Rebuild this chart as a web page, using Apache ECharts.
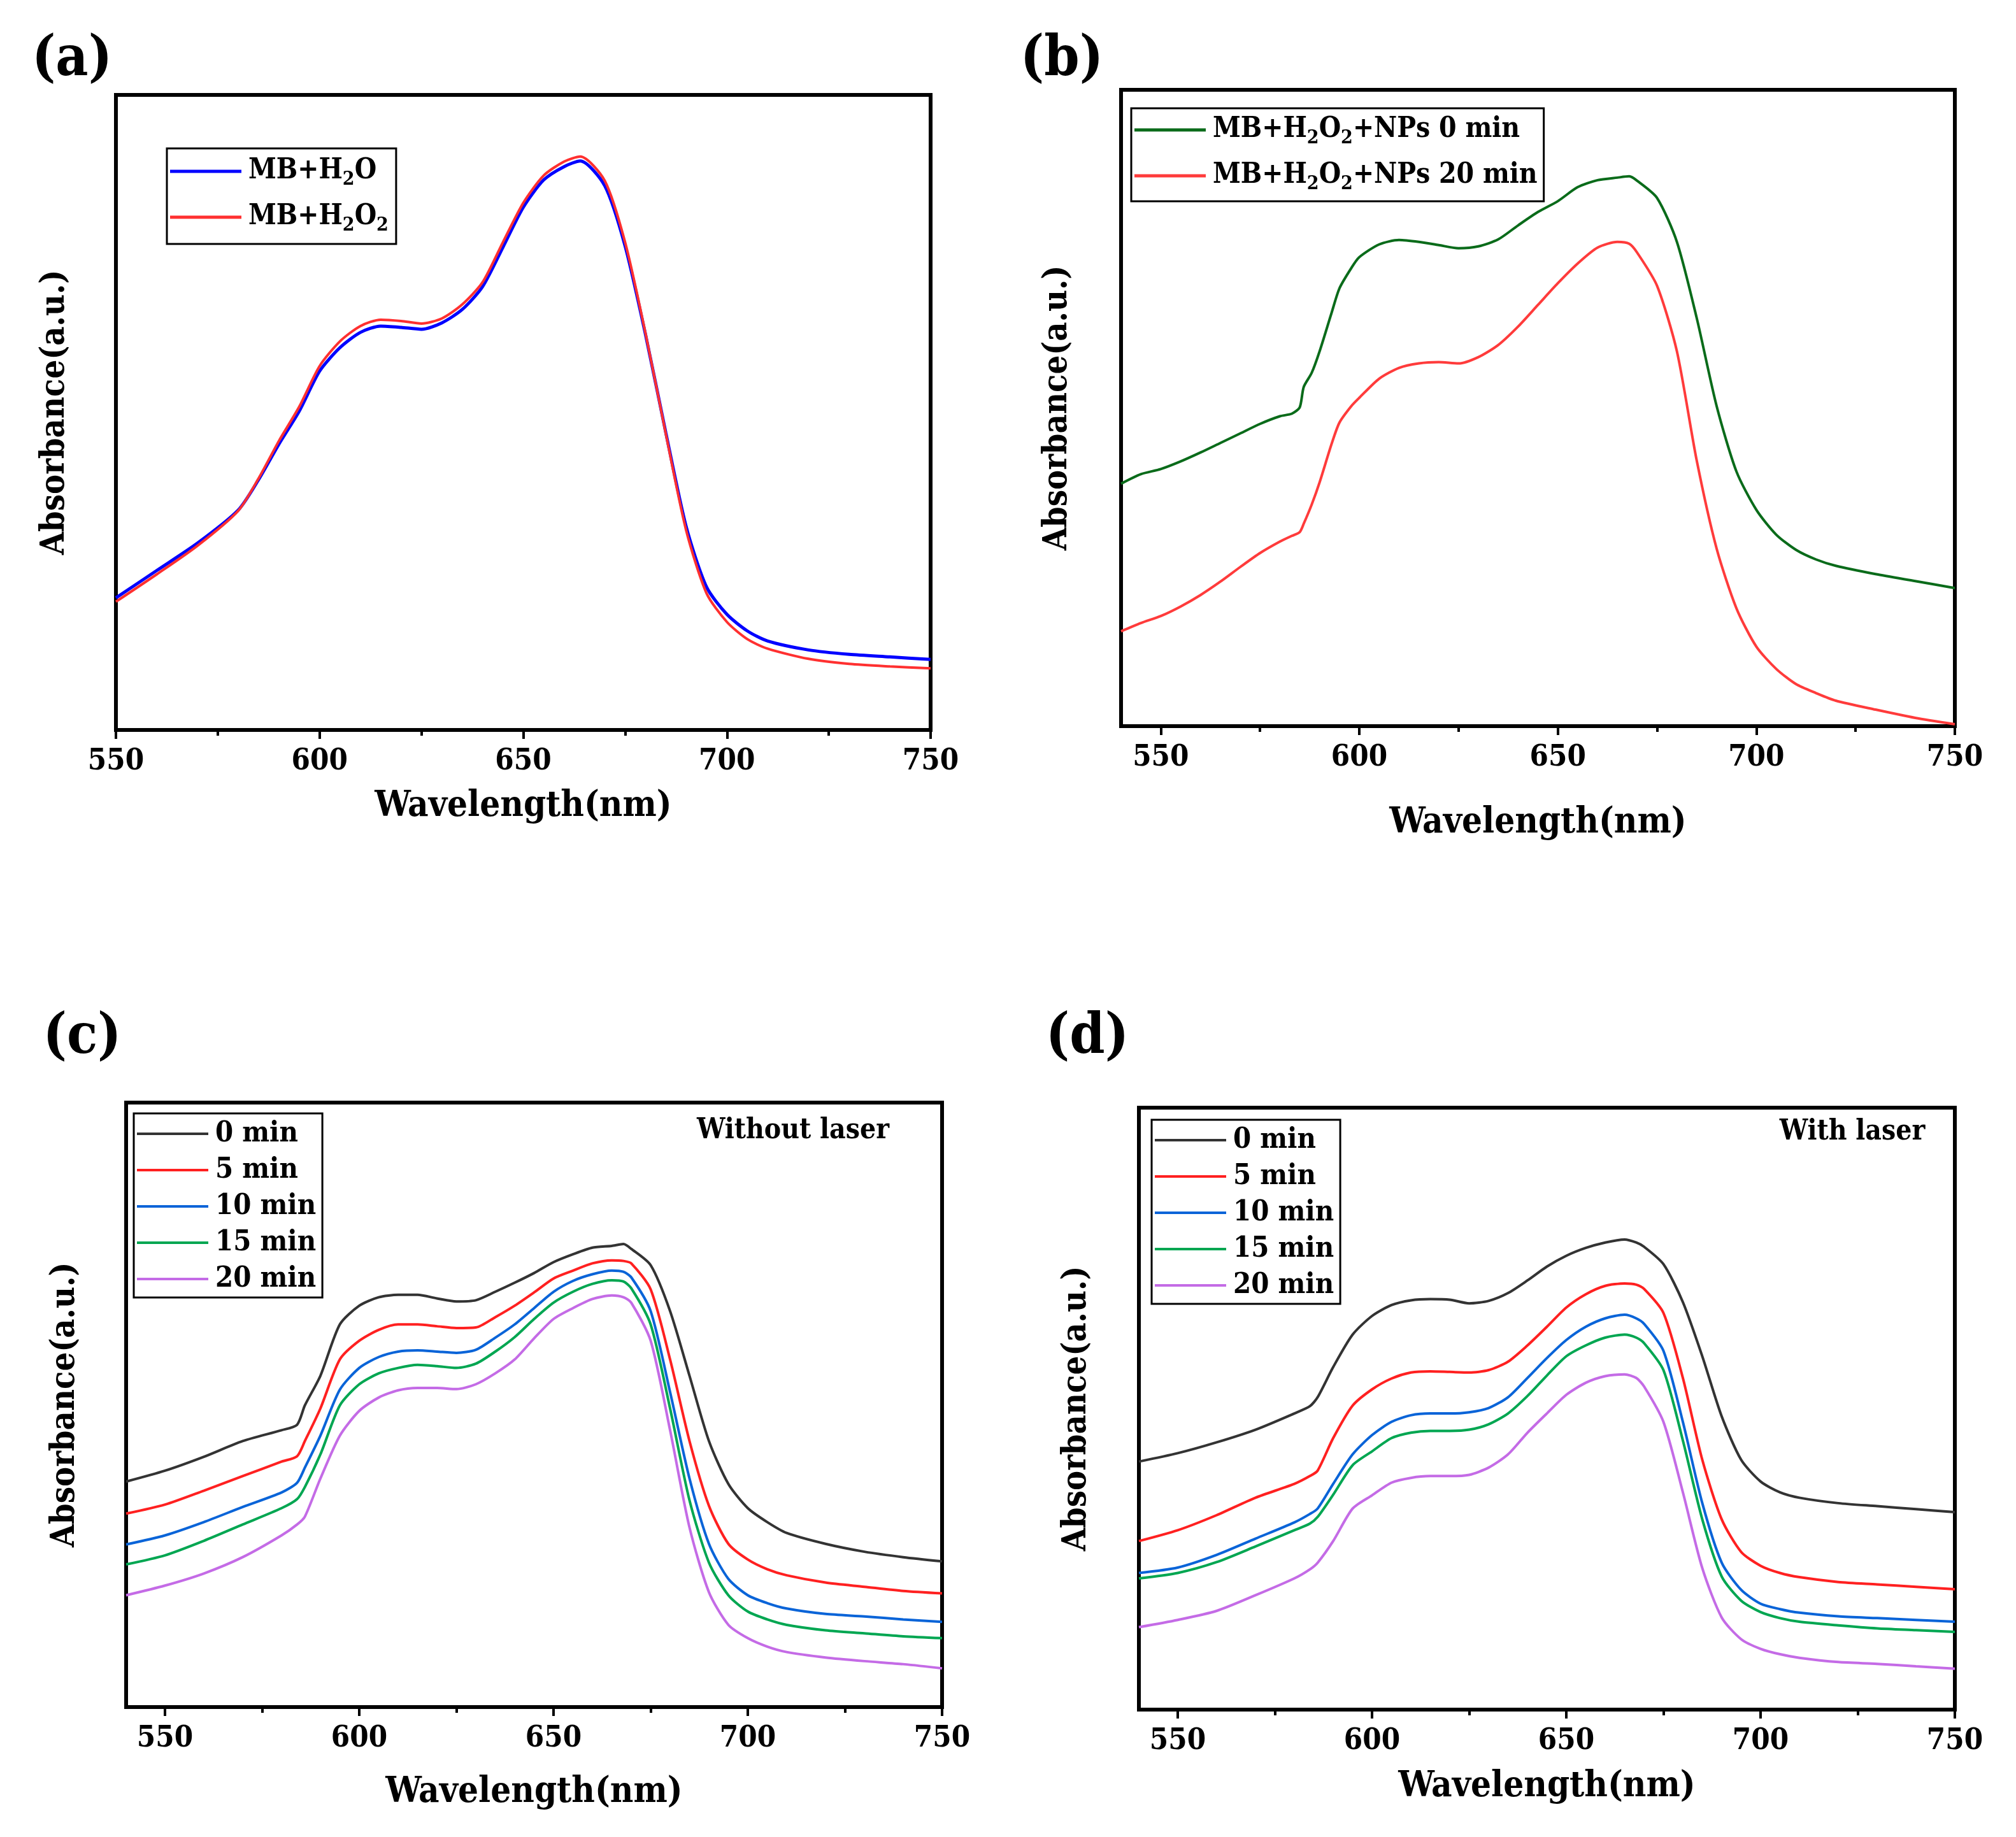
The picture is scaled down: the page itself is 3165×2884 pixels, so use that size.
<!DOCTYPE html>
<html><head><meta charset="utf-8">
<script src="https://cdn.jsdelivr.net/npm/echarts@6/dist/echarts.min.js"></script>
<style>html,body{margin:0;padding:0;background:#fff}#c{width:3165px;height:2884px}</style>
</head><body><div id="c"></div><script>
// ---------- data (absorbance in arbitrary units, fraction of plot height) ----------
const WL_A = [550,560,570,580,585,590,595,600,605,610,615,620,625,630,635,640,645,650,655,660,664,670,675,680,685,690,695,700,705,710,720,730,740,750];
const A_MB_H2O = [.208,.251,.294,.346,.394,.450,.502,.565,.602,.626,.636,.634,.631,.641,.662,.698,.760,.823,.866,.887,.896,.857,.762,.623,.468,.320,.225,.182,.156,.140,.126,.119,.115,.111];
const A_MB_H2O2 = [.202,.245,.290,.345,.396,.455,.509,.573,.612,.636,.646,.644,.640,.648,.670,.705,.768,.830,.873,.895,.903,.865,.768,.625,.466,.314,.215,.170,.143,.128,.112,.104,.100,.097];

const WL_B = [540,545,550,555,560,565,570,575,580,583,585,586,588,590,593,595,598,600,605,610,615,620,625,630,635,640,645,650,655,660,665,668,670,675,680,685,690,695,700,705,710,715,720,730,740,750];
const B_NP0 = [.381,.396,.404,.416,.430,.445,.460,.475,.487,.491,.501,.533,.555,.589,.649,.688,.720,.737,.757,.764,.761,.756,.751,.754,.765,.787,.808,.825,.847,.858,.862,.864,.857,.830,.761,.641,.503,.400,.340,.301,.277,.262,.252,.239,.228,.217];
const B_NP20 = [.149,.162,.173,.188,.206,.227,.250,.272,.290,.299,.305,.318,.348,.383,.443,.477,.503,.516,.546,.563,.570,.572,.570,.580,.599,.628,.662,.696,.727,.752,.761,.758,.744,.692,.589,.417,.279,.185,.125,.090,.066,.052,.040,.026,.013,.003];

const WL_CD = [540,550,560,570,580,584,586,590,595,600,605,610,615,620,625,630,635,640,645,650,655,660,665,668,670,675,680,685,690,695,700,705,710,720,730,740,750];
const C_0  = [.373,.391,.414,.440,.458,.467,.499,.548,.633,.664,.678,.682,.682,.676,.671,.673,.687,.702,.718,.736,.749,.760,.763,.766,.758,.731,.655,.548,.440,.369,.329,.306,.288,.270,.257,.248,.241];
const C_5  = [.320,.335,.358,.382,.406,.415,.440,.494,.575,.606,.624,.633,.633,.630,.627,.628,.645,.664,.686,.709,.722,.734,.739,.738,.734,.691,.575,.440,.333,.270,.244,.228,.218,.206,.199,.192,.188];
const C_10 = [.269,.284,.306,.331,.355,.371,.396,.449,.525,.561,.579,.588,.590,.588,.586,.591,.611,.633,.660,.687,.705,.716,.722,.720,.711,.655,.521,.378,.270,.212,.185,.172,.163,.154,.150,.145,.141];
const C_15 = [.236,.251,.275,.302,.329,.344,.364,.418,.499,.534,.552,.561,.566,.564,.561,.568,.588,.612,.642,.669,.687,.700,.706,.704,.693,.633,.494,.342,.239,.185,.158,.145,.136,.127,.122,.117,.114];
const C_20 = [.185,.201,.221,.248,.284,.302,.315,.378,.449,.490,.512,.524,.528,.528,.526,.534,.552,.575,.610,.642,.660,.675,.681,.678,.669,.606,.458,.297,.190,.136,.114,.100,.091,.082,.076,.071,.064];

const D_0  = [.412,.426,.444,.465,.492,.504,.519,.569,.623,.654,.672,.680,.682,.681,.675,.679,.692,.713,.736,.754,.767,.776,.781,.776,.769,.740,.677,.587,.487,.415,.379,.361,.352,.343,.338,.333,.328];
const D_5  = [.280,.298,.323,.352,.375,.388,.397,.451,.505,.532,.550,.560,.562,.561,.560,.564,.578,.605,.636,.668,.690,.704,.708,.706,.699,.659,.551,.415,.316,.262,.239,.227,.220,.212,.208,.204,.200];
const D_10 = [.227,.236,.257,.284,.311,.325,.334,.375,.424,.456,.478,.489,.492,.492,.494,.501,.519,.551,.584,.614,.636,.650,.656,.650,.641,.596,.478,.343,.244,.199,.176,.167,.161,.155,.152,.149,.146];
const D_15 = [.218,.227,.245,.271,.298,.309,.320,.357,.406,.429,.451,.460,.463,.463,.465,.474,.492,.521,.555,.587,.605,.618,.623,.618,.609,.564,.447,.316,.221,.181,.162,.152,.146,.140,.135,.132,.129];
const D_20 = [.137,.149,.164,.190,.218,.233,.244,.280,.334,.356,.377,.385,.388,.388,.390,.402,.424,.460,.492,.523,.543,.554,.557,.551,.537,.478,.361,.235,.153,.117,.101,.092,.086,.079,.076,.072,.068];

const MAJOR_TICKS = [550,600,650,700,750];
const MINOR_TICKS = [575,625,675,725];
const TIME_NAMES = ['0 min','5 min','10 min','15 min','20 min'];

// ---------- styling ----------
const FONT = '"DejaVu Serif Condensed", "DejaVu Serif", serif';
const TIME_COLORS = ['#333333','#ff2020','#0a64d8','#00a651','#c46be6'];

function pairs(xs, ys){ return xs.map((x,i)=>[x, ys[i]]); }
function subFmt(name){
  let out = '';
  for (let i=0;i<name.length;i++){
    const ch = name[i];
    if (/[0-9]/.test(ch) && i>0 && /[HO]/.test(name[i-1])) out += '{s|'+ch+'}';
    else out += '{n|'+ch+'}';
  }
  return out;
}

const grids = [
  {left:182, top:149, width:1279, height:997, xmin:550},
  {left:1760, top:141, width:1309, height:999, xmin:540},
  {left:198, top:1731, width:1281, height:949, xmin:540},
  {left:1788, top:1739, width:1281, height:945, xmin:540}
];
const xNameGap = [92, 124, 106, 93];
const yNameGap = [70, 74, 70, 72];

const option = {
  backgroundColor:'#fff',
  animation:false,
  grid: grids.map(g=>({left:g.left, top:g.top, width:g.width, height:g.height, show:true, borderColor:'#000', borderWidth:6, backgroundColor:'rgba(0,0,0,0)'})),
  xAxis: [],
  yAxis: [],
  legend: [],
  series: [],
  graphic: []
};

grids.forEach((g,i)=>{
  option.xAxis.push({
    gridIndex:i, type:'value', position:'bottom', min:g.xmin, max:750,
    axisLine:{show:false}, splitLine:{show:false},
    axisTick:{show:true, customValues:MAJOR_TICKS, length:14, lineStyle:{width:4, color:'#000'}},
    axisLabel:{customValues:MAJOR_TICKS, fontSize:47, fontWeight:'bold', fontFamily:FONT, color:'#000', margin:26},
    name:'Wavelength(nm)', nameLocation:'middle', nameGap:xNameGap[i],
    nameTextStyle:{fontSize:56, fontWeight:'bold', fontFamily:FONT, color:'#000'}
  });
  option.xAxis.push({
    gridIndex:i, type:'value', position:'bottom', min:g.xmin, max:750,
    axisLine:{show:false}, splitLine:{show:false}, axisLabel:{show:false},
    axisTick:{show:true, customValues:MINOR_TICKS, length:9, lineStyle:{width:4, color:'#000'}}
  });
  option.yAxis.push({
    gridIndex:i, type:'value', min:0, max:1,
    axisLine:{show:false}, axisTick:{show:false}, axisLabel:{show:false}, splitLine:{show:false},
    name:'Absorbance(a.u.)', nameLocation:'middle', nameGap:yNameGap[i],
    nameTextStyle:{fontSize:52, fontWeight:'bold', fontFamily:FONT, color:'#000'}
  });
});

function addSeries(name, panel, xs, ys, color, width){
  option.series.push({
    name, type:'line', xAxisIndex:panel*2, yAxisIndex:panel,
    data:pairs(xs, ys), symbol:'none', showSymbol:false, smooth:0.25,
    lineStyle:{color, width}, itemStyle:{color}, z:3
  });
}
addSeries('MB+H2O', 0, WL_A, A_MB_H2O, '#0000ff', 5);
addSeries('MB+H2O2', 0, WL_A, A_MB_H2O2, '#ff3030', 4);
addSeries('MB+H2O2+NPs 0 min', 1, WL_B, B_NP0, '#0a6b1a', 4);
addSeries('MB+H2O2+NPs 20 min', 1, WL_B, B_NP20, '#ff3b3b', 4);
[C_0,C_5,C_10,C_15,C_20].forEach((d,k)=>addSeries(TIME_NAMES[k], 2, WL_CD, d, TIME_COLORS[k], 4));
[D_0,D_5,D_10,D_15,D_20].forEach((d,k)=>addSeries(TIME_NAMES[k], 3, WL_CD, d, TIME_COLORS[k], 4));

const richStyle = {
  n:{fontSize:44, fontWeight:'bold', fontFamily:FONT, color:'#000', lineHeight:56},
  s:{fontSize:30, fontWeight:'bold', fontFamily:FONT, color:'#000', lineHeight:56, verticalAlign:'bottom'}
};
function legendCfg(data, left, top, gap, padding, rich, lh, fs, ih){
  const l = {
    data, orient:'vertical', left, top, icon:'rect', itemWidth:112, itemHeight:ih, itemGap:gap,
    padding, borderColor:'#000', borderWidth:3, backgroundColor:'#fff',
    selectedMode:false, z:10,
    textStyle:{fontFamily:FONT, fontWeight:'bold', fontSize:fs, color:'#000', lineHeight:lh, padding:[0,0,0,6]}
  };
  if (rich){ l.formatter = subFmt; l.textStyle.rich = richStyle; }
  return l;
}
option.legend.push(legendCfg(['MB+H2O','MB+H2O2'], 262, 233, 16, [8,12,14,5], true, 56, 44, 5));
option.legend.push(legendCfg(['MB+H2O2+NPs 0 min','MB+H2O2+NPs 20 min'], 1776, 170, 16, [6,10,12,5], true, 56, 44, 5));
option.legend.push(legendCfg(TIME_NAMES, 210, 1748, 9, [8,10,5,5], false, 48, 45, 4));
option.legend.push(legendCfg(TIME_NAMES, 1808, 1758, 9, [8,10,5,5], false, 48, 45, 4));

function txt(text, x, y, size){
  return {type:'text', x, y, z:20, style:{text, fontSize:size, fontWeight:'bold', fontFamily:FONT, fill:'#000', align:'center', verticalAlign:'middle', textAlign:'center', textVerticalAlign:'middle'}};
}
option.graphic = [
  txt('(a)', 113, 95, 88), txt('(b)', 1667, 95, 88), txt('(c)', 129, 1630, 88), txt('(d)', 1707, 1630, 88),
  txt('Without laser', 1245, 1776, 44), txt('With laser', 2908, 1778, 44)
];

const chart = echarts.init(document.getElementById('c'), null, {renderer:'canvas'});
chart.setOption(option);
</script></body></html>
